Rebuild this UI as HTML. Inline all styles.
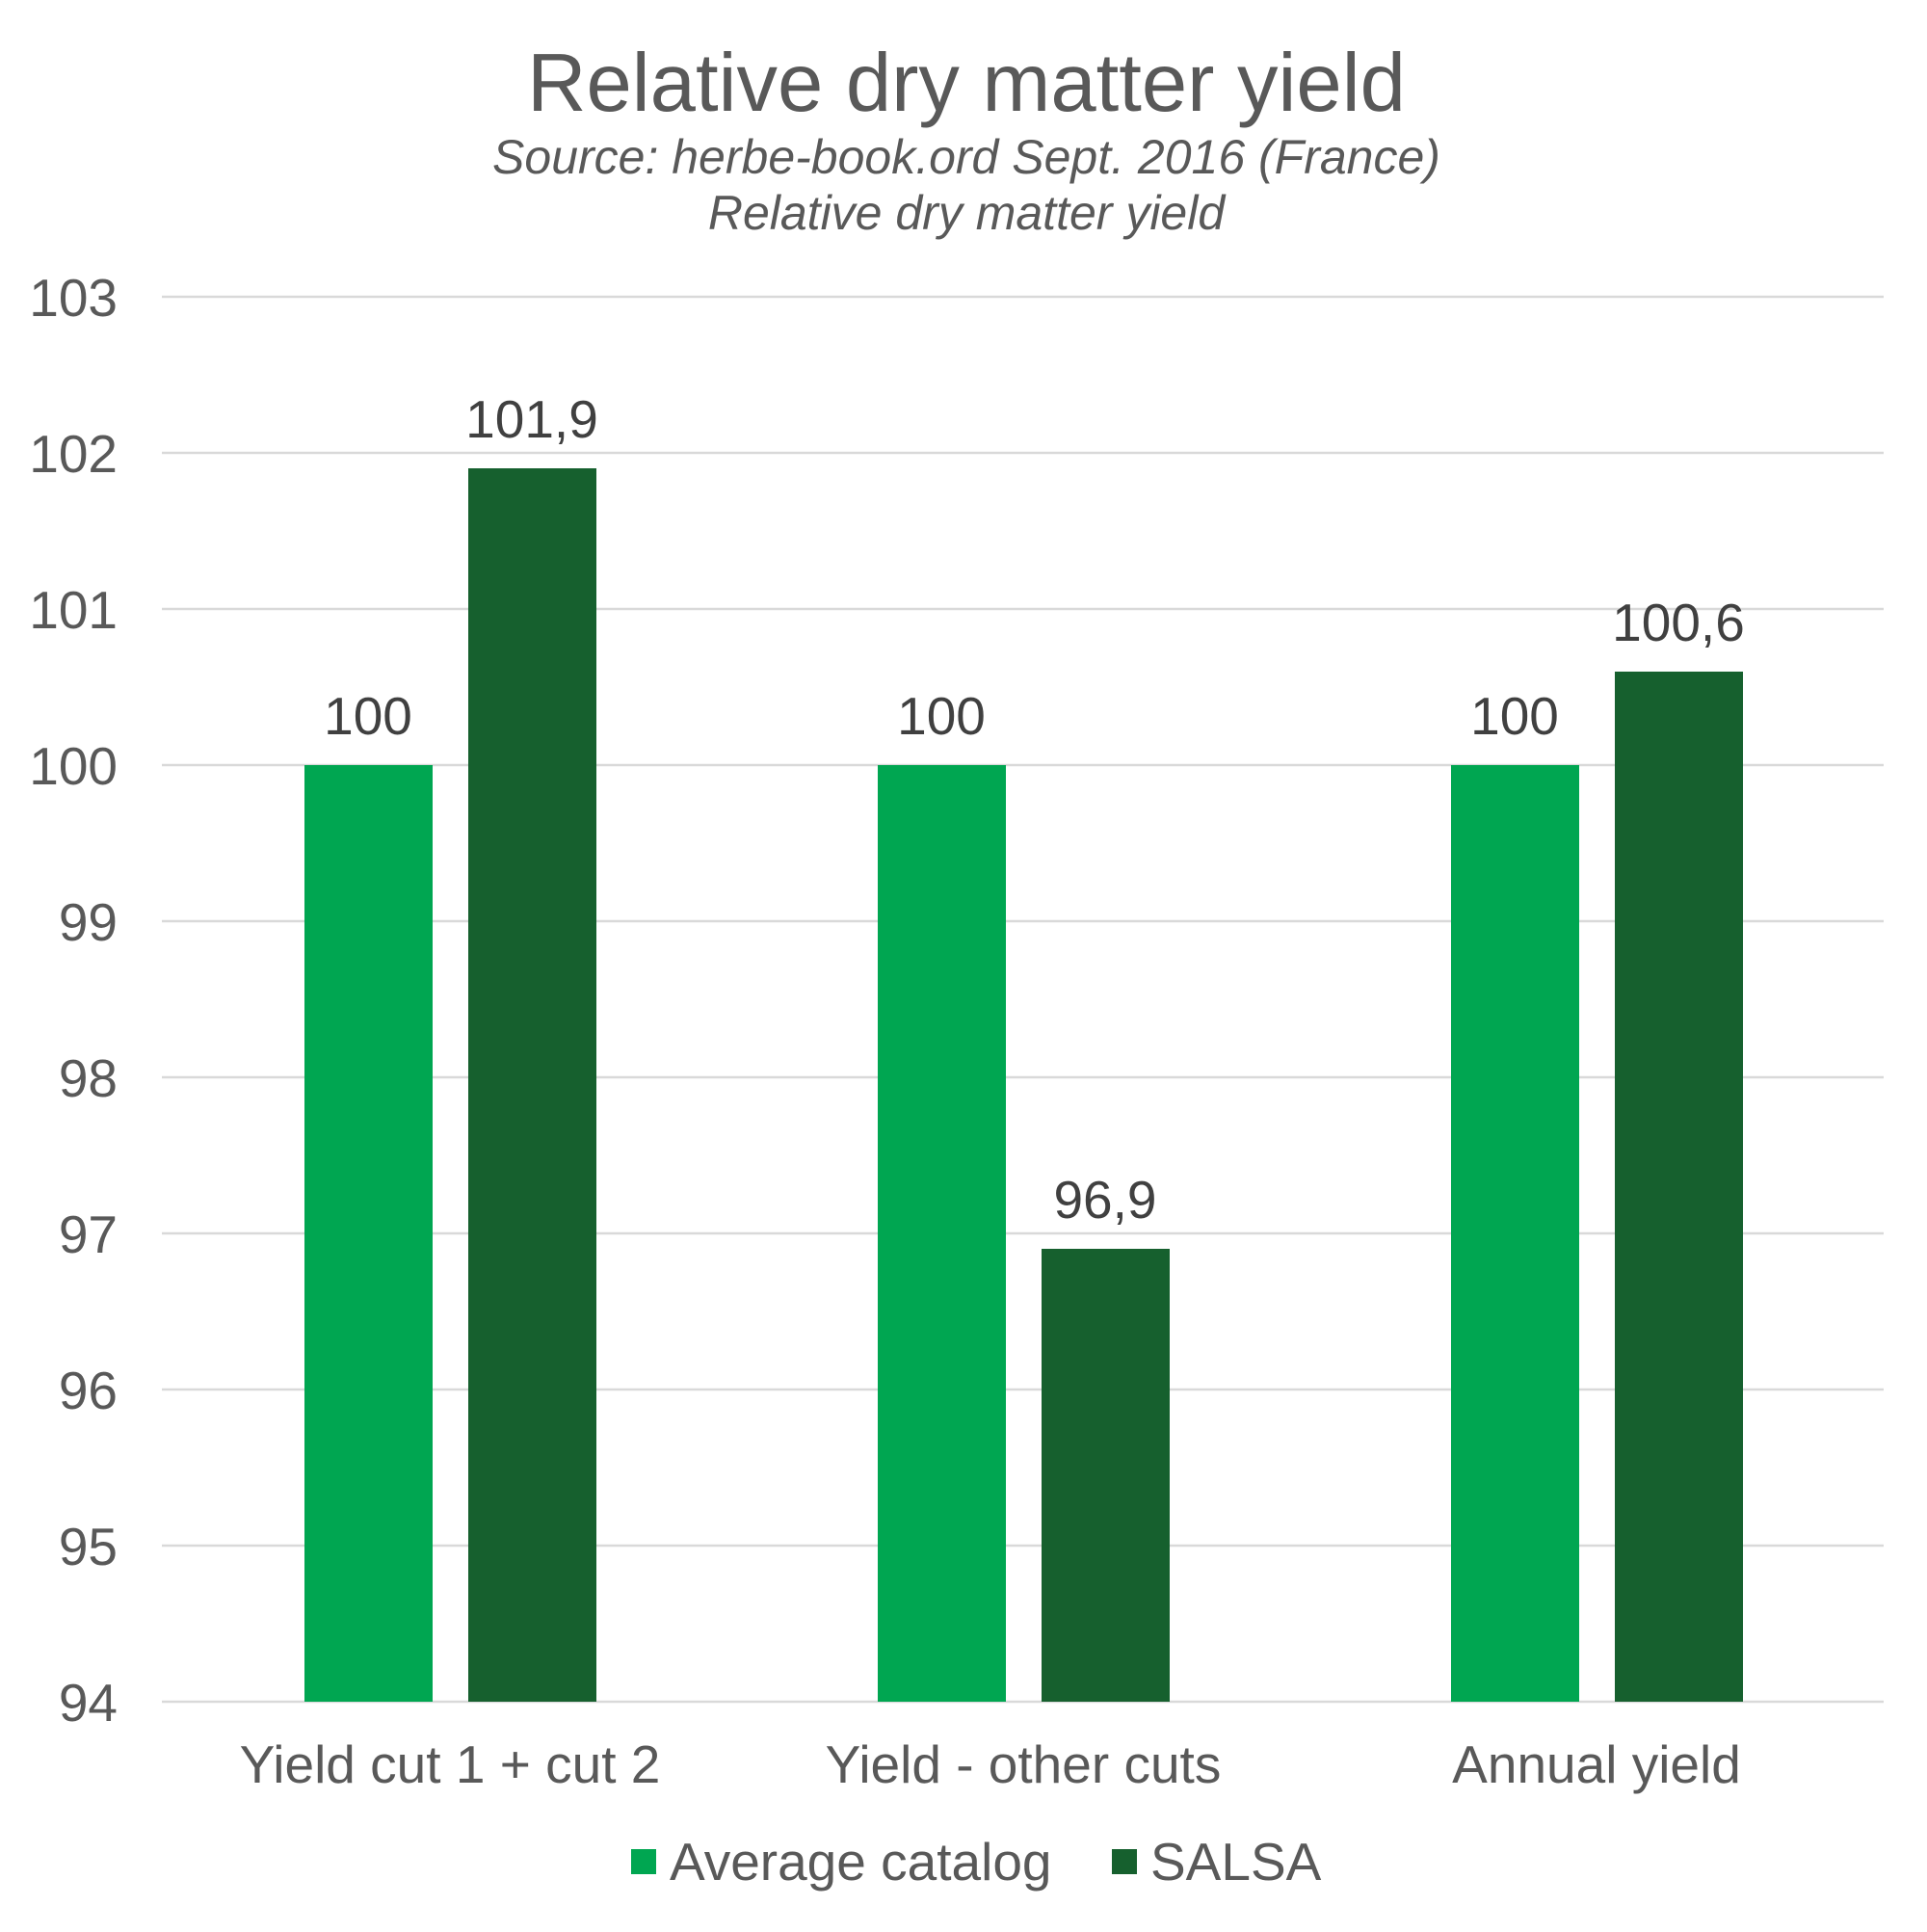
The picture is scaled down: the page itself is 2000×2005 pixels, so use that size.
<!DOCTYPE html>
<html><head><meta charset="utf-8"><style>body{margin:0;background:#fff}</style></head><body>
<svg width="2000" height="2000" xmlns="http://www.w3.org/2000/svg" font-family="Liberation Sans, Arial, sans-serif">
<rect width="2000" height="2000" fill="#fff"/>
<text x="1003" y="115" font-size="85" fill="#595959" text-anchor="middle">Relative dry matter yield</text>
<text x="1003" y="180" font-size="50" fill="#595959" text-anchor="middle" font-style="italic">Source: herbe-book.ord Sept. 2016 (France)</text>
<text x="1003" y="238" font-size="50" fill="#595959" text-anchor="middle" font-style="italic">Relative dry matter yield</text>
<g stroke="#d9d9d9" stroke-width="2.5">
<line x1="168" x2="1955" y1="308" y2="308"/><line x1="168" x2="1955" y1="470" y2="470"/><line x1="168" x2="1955" y1="632" y2="632"/><line x1="168" x2="1955" y1="794" y2="794"/><line x1="168" x2="1955" y1="956" y2="956"/><line x1="168" x2="1955" y1="1118" y2="1118"/><line x1="168" x2="1955" y1="1280" y2="1280"/><line x1="168" x2="1955" y1="1442" y2="1442"/><line x1="168" x2="1955" y1="1604" y2="1604"/><line x1="168" x2="1955" y1="1766" y2="1766"/>
</g>
<g font-size="55" fill="#595959" text-anchor="end">
<text x="122" y="328">103</text><text x="122" y="490">102</text><text x="122" y="652">101</text><text x="122" y="814">100</text><text x="122" y="976">99</text><text x="122" y="1138">98</text><text x="122" y="1300">97</text><text x="122" y="1462">96</text><text x="122" y="1624">95</text><text x="122" y="1786">94</text>
</g>
<g fill="#00a651"><rect x="316" y="794" width="133" height="972"/><rect x="911" y="794" width="133" height="972"/><rect x="1506" y="794" width="133" height="972"/></g>
<g fill="#16602e"><rect x="486" y="486" width="133" height="1280"/><rect x="1081" y="1296" width="133" height="470"/><rect x="1676" y="697" width="133" height="1069"/></g>
<g font-size="55" fill="#404040" text-anchor="middle">
<text x="382" y="762">100</text><text x="552" y="454">101,9</text><text x="977" y="762">100</text><text x="1147" y="1264">96,9</text><text x="1572" y="762">100</text><text x="1742" y="665">100,6</text>
</g>
<g font-size="55" fill="#595959" text-anchor="middle">
<text x="467" y="1850">Yield cut 1 + cut 2</text><text x="1062" y="1850">Yield - other cuts</text><text x="1657" y="1850">Annual yield</text>
</g>
<rect x="655" y="1919" width="26" height="26" fill="#00a651"/>
<text x="695" y="1951" font-size="55" fill="#595959">Average catalog</text>
<rect x="1154" y="1919" width="26" height="26" fill="#16602e"/>
<text x="1194" y="1951" font-size="55" fill="#595959">SALSA</text>
</svg>
</body></html>
